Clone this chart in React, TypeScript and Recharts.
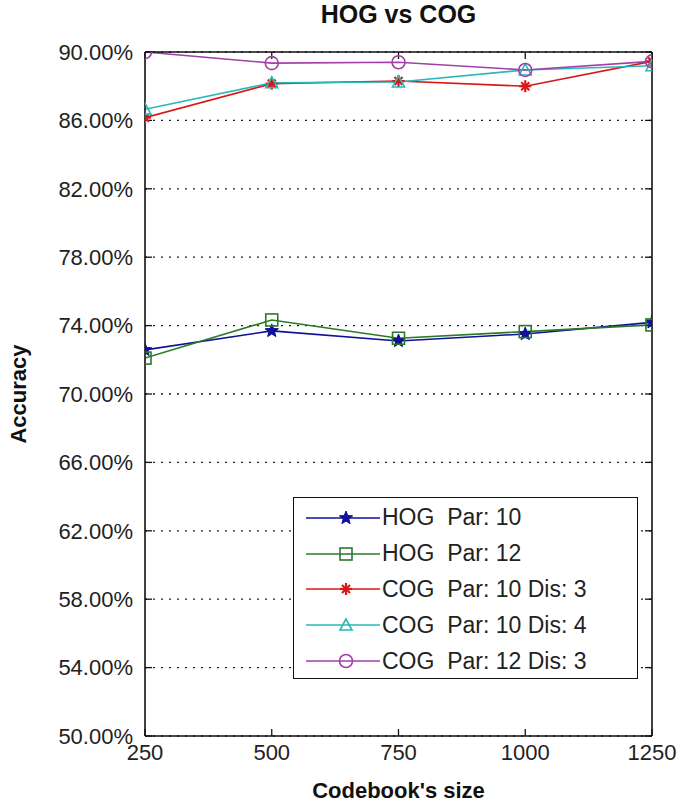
import React from 'react';
import { LineChart, Line, XAxis, YAxis, CartesianGrid, Legend } from 'recharts';

const codebookSizes = [250, 500, 750, 1000, 1250];
const hogPar10 = [72.58, 73.69, 73.1, 73.51, 74.19];
const hogPar12 = [72.1, 74.33, 73.26, 73.65, 74.04];
const cogPar10Dis3 = [86.16, 88.15, 88.3, 88.0, 89.45];
const cogPar10Dis4 = [86.65, 88.2, 88.25, 88.95, 89.2];
const cogPar12Dis3 = [90.0, 89.35, 89.4, 88.95, 89.45];
const yTicks = [50, 54, 58, 62, 66, 70, 74, 78, 82, 86, 90];
const seriesNames = ['HOG  Par: 10', 'HOG  Par: 12', 'COG  Par: 10 Dis: 3', 'COG  Par: 10 Dis: 4', 'COG  Par: 12 Dis: 3'];
const seriesKeys = ['hog10', 'hog12', 'cog10d3', 'cog10d4', 'cog12d3'];
const seriesValues = [hogPar10, hogPar12, cogPar10Dis3, cogPar10Dis4, cogPar12Dis3];
const seriesColors = ['#10109a', '#2a7a2a', '#d81818', '#2ab8b8', '#a040a8'];
const seriesMarkers = ['star', 'square', 'asterisk', 'triangle', 'circle'];

const data = codebookSizes.map((x, i) => {
  const row: any = { x };
  seriesKeys.forEach((k, j) => { row[k] = seriesValues[j][i]; });
  return row;
});

const FONT = '"Liberation Sans", Arial, sans-serif';

function Marker({ kind, cx, cy, color }: any) {
  if (cx == null || cy == null) return null;
  if (kind === 'star') {
    const pts: string[] = [];
    for (let i = 0; i < 10; i++) {
      const r = i % 2 === 0 ? 7 : 3;
      const a = -Math.PI / 2 + (i * Math.PI) / 5;
      pts.push(`${cx + r * Math.cos(a)},${cy + r * Math.sin(a)}`);
    }
    return <polygon points={pts.join(' ')} fill={color} stroke={color} strokeWidth={1} />;
  }
  if (kind === 'square') {
    return <rect x={cx - 6} y={cy - 6} width={12} height={12} fill="none" stroke={color} strokeWidth={1.6} />;
  }
  if (kind === 'asterisk') {
    return (
      <g stroke={color} strokeWidth={2.2}>
        <line x1={cx - 6} y1={cy} x2={cx + 6} y2={cy} />
        <line x1={cx} y1={cy - 6} x2={cx} y2={cy + 6} />
        <line x1={cx - 4} y1={cy - 4} x2={cx + 4} y2={cy + 4} />
        <line x1={cx - 4} y1={cy + 4} x2={cx + 4} y2={cy - 4} />
      </g>
    );
  }
  if (kind === 'triangle') {
    return <polygon points={`${cx},${cy - 6} ${cx - 6},${cy + 5} ${cx + 6},${cy + 5}`} fill="none" stroke={color} strokeWidth={1.6} />;
  }
  return <circle cx={cx} cy={cy} r={6.5} fill="none" stroke={color} strokeWidth={1.6} />;
}

function LegendBox() {
  return (
    <div style={{ width: 345, height: 182, border: '1.5px solid #111', background: '#fff', boxSizing: 'border-box', paddingTop: 2 }}>
      {seriesNames.map((name, i) => (
        <div key={name} style={{ display: 'flex', alignItems: 'center', height: 35.8 }}>
          <svg width={86} height={30} style={{ marginLeft: 12 }}>
            <line x1={0} y1={15} x2={74} y2={15} stroke={seriesColors[i]} strokeWidth={1.6} />
            <Marker kind={seriesMarkers[i]} cx={40} cy={15} color={seriesColors[i]} />
          </svg>
          <span style={{ fontFamily: FONT, fontSize: 23, color: '#222', whiteSpace: 'pre', marginLeft: -10 }}>{name}</span>
        </div>
      ))}
    </div>
  );
}

const axisTickStyle = { fontFamily: FONT, fontSize: 22, fill: '#222' };

export default function App() {
  return (
    <div style={{ position: 'absolute', left: 0, top: 0, width: 681, height: 803, background: '#fff' }}>
      <div style={{ position: 'absolute', left: 145, width: 507, top: 0, textAlign: 'center', fontFamily: FONT, fontWeight: 'bold', fontSize: 25, color: '#111' }}>
        HOG vs COG
      </div>
      <LineChart width={681} height={803} data={data} margin={{ top: 0, right: 0, bottom: 0, left: 0 }}>
        <CartesianGrid vertical={false} horizontal stroke="#222" strokeDasharray="2 6" strokeWidth={1.3} xAxisId="bottom" yAxisId="left" />
        <XAxis
          xAxisId="bottom"
          dataKey="x"
          type="number"
          domain={[250, 1250]}
          ticks={codebookSizes}
          orientation="bottom"
          height={67}
          tickSize={-7}
          tickMargin={15}
          tick={axisTickStyle}
          axisLine={{ stroke: '#111', strokeWidth: 1.6 }}
          tickLine={{ stroke: '#111', strokeWidth: 1.3 }}
          allowDataOverflow
          label={{ value: "Codebook's size", position: 'insideBottom', offset: 5, style: { fontFamily: FONT, fontWeight: 'bold', fontSize: 22, fill: '#111' } }}
        />
        <XAxis
          xAxisId="top"
          dataKey="x"
          type="number"
          domain={[250, 1250]}
          ticks={codebookSizes}
          orientation="top"
          height={52}
          tickSize={-7}
          tickFormatter={() => ''}
          axisLine={{ stroke: '#111', strokeWidth: 1.6 }}
          tickLine={{ stroke: '#111', strokeWidth: 1.3 }}
          allowDataOverflow
        />
        <YAxis
          yAxisId="left"
          type="number"
          domain={[50, 90]}
          ticks={yTicks}
          width={145}
          tickSize={-7}
          tickMargin={19}
          tick={axisTickStyle}
          tickFormatter={(v: number) => v.toFixed(2) + '%'}
          axisLine={{ stroke: '#111', strokeWidth: 1.6 }}
          tickLine={{ stroke: '#111', strokeWidth: 1.3 }}
          allowDataOverflow
          label={{ value: 'Accuracy', angle: -90, position: 'insideLeft', offset: 18, style: { fontFamily: FONT, fontWeight: 'bold', fontSize: 22, fill: '#111', textAnchor: 'middle' } }}
        />
        <YAxis
          yAxisId="right"
          orientation="right"
          type="number"
          domain={[50, 90]}
          ticks={yTicks}
          width={29}
          tickSize={-7}
          tickFormatter={() => ''}
          axisLine={{ stroke: '#111', strokeWidth: 1.6 }}
          tickLine={{ stroke: '#111', strokeWidth: 1.3 }}
          allowDataOverflow
        />
        {seriesKeys.map((k, i) => (
          <Line
            key={k}
            xAxisId="bottom"
            yAxisId="left"
            dataKey={k}
            name={seriesNames[i]}
            stroke={seriesColors[i]}
            strokeWidth={1.6}
            isAnimationActive={false}
            dot={(p: any) => <Marker key={`${k}-${p.index}`} kind={seriesMarkers[i]} cx={p.cx} cy={p.cy} color={seriesColors[i]} />}
            activeDot={false}
          />
        ))}
        <Legend
          layout="vertical"
          align="center"
          verticalAlign="middle"
          wrapperStyle={{ position: 'absolute', left: 293, top: 497, width: 345, height: 182 }}
          content={() => <LegendBox />}
        />
      </LineChart>
    </div>
  );
}
